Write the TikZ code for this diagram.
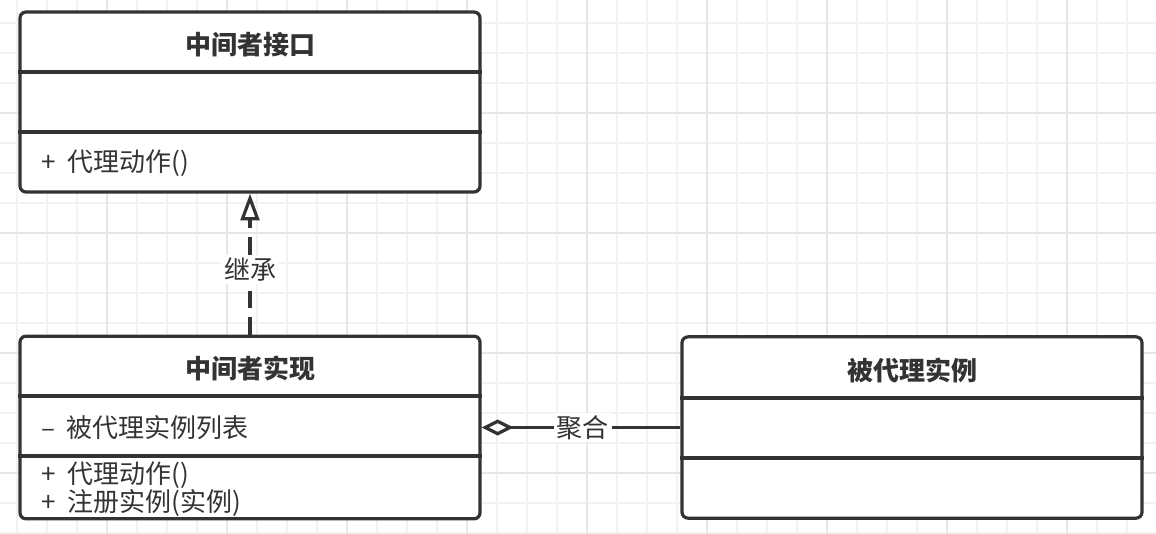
\documentclass[tikz,border=0pt]{standalone}
\usepackage{fontspec}
\setmainfont{Noto Sans CJK SC}
\usetikzlibrary{arrows.meta}
\usetikzlibrary{positioning}
\definecolor{umlgray}{HTML}{333333}
\definecolor{gridminor}{HTML}{F2F2F2}
\definecolor{gridmajor}{HTML}{E6E6E6}
\newcommand{\vis}[1]{#1\hspace{0.45em}}
\tikzset{
  classbox/.style={draw=umlgray, line width=2.4pt, rounded corners=4.5pt, fill=white,
    minimum width=345pt, inner sep=0pt},
  classline/.style={draw=umlgray, line width=2.4pt},
  classtitle/.style={text=umlgray, font=\fontsize{19.5pt}{23pt}\selectfont\bfseries, inner sep=0pt},
  member/.style={text=umlgray, font=\fontsize{19.5pt}{23pt}\selectfont, anchor=west, inner sep=0pt},
  edgelabel/.style={text=umlgray, fill=white, font=\fontsize{19.5pt}{23pt}\selectfont, inner sep=2pt},
  inherit/.style={draw=umlgray, line width=2.4pt, dash pattern=on 13pt off 7pt,
    -{Triangle[open, length=20pt, width=14pt]}},
  aggreg/.style={draw=umlgray, line width=2.4pt,
    -{Diamond[open, length=24pt, width=12pt]}}
}
\begin{document}
\begin{tikzpicture}[x=0.75pt, y=-0.75pt]
			% background and grid
			\useasboundingbox (0,0) rectangle (1156,534);
			\fill[white] (0,0) rectangle (1156,534);
			\foreach \gx in {17,47,...,1156} \draw[gridminor, line width=0.8pt] (\gx,0) -- (\gx,534);
			\foreach \gy in {23,53,...,534} \draw[gridminor, line width=0.8pt] (0,\gy) -- (1156,\gy);
			\foreach \gx in {107,227,...,1156} \draw[gridmajor, line width=0.8pt] (\gx,0) -- (\gx,534);
			\foreach \gy in {113,233,...,534} \draw[gridmajor, line width=0.8pt] (0,\gy) -- (1156,\gy);
			
			% interface class
			\node[classbox, minimum height=135pt] (iface) at (250,102) {};
			\draw[classline] (iface.west |- 0,72) -- (iface.east |- 0,72);
			\draw[classline] (iface.west |- 0,132) -- (iface.east |- 0,132);
			\node[classtitle] (ifacetitle) at (250,45) {中间者接口};
			\node[member] (ifaceop) at (41,163) {\vis{+}代理动作()};
			
			% implementation class
			\node[classbox, minimum height=137pt] (impl) at (250,427.5) {};
			\draw[classline] (impl.west |- 0,396) -- (impl.east |- 0,396);
			\draw[classline] (impl.west |- 0,456) -- (impl.east |- 0,456);
			\node[classtitle] (impltitle) at (250,368) {中间者实现};
			\node[member] (implattr) at (41,428) {\vis{–}被代理实例列表};
			\node[member] (implop) at (41,475) {\vis{+}代理动作()};
			\node[member] (implreg) at (41,503) {\vis{+}注册实例(实例)};
			
			% proxied instance class
			\node[classbox, minimum height=136pt] (inst) at (912,427.5) {};
			\draw[classline] (inst.west |- 0,398) -- (inst.east |- 0,398);
			\draw[classline] (inst.west |- 0,458) -- (inst.east |- 0,458);
			\node[classtitle] (insttitle) at (912,370) {被代理实例};
			
			% relations
			\draw[inherit] (impl.north) -- (iface.south) node[edgelabel, pos=0.46] {继承};
			\draw[aggreg] (inst.west) -- (impl.east) node[edgelabel, pos=0.49] {聚合};
		\end{tikzpicture}
\end{document}
